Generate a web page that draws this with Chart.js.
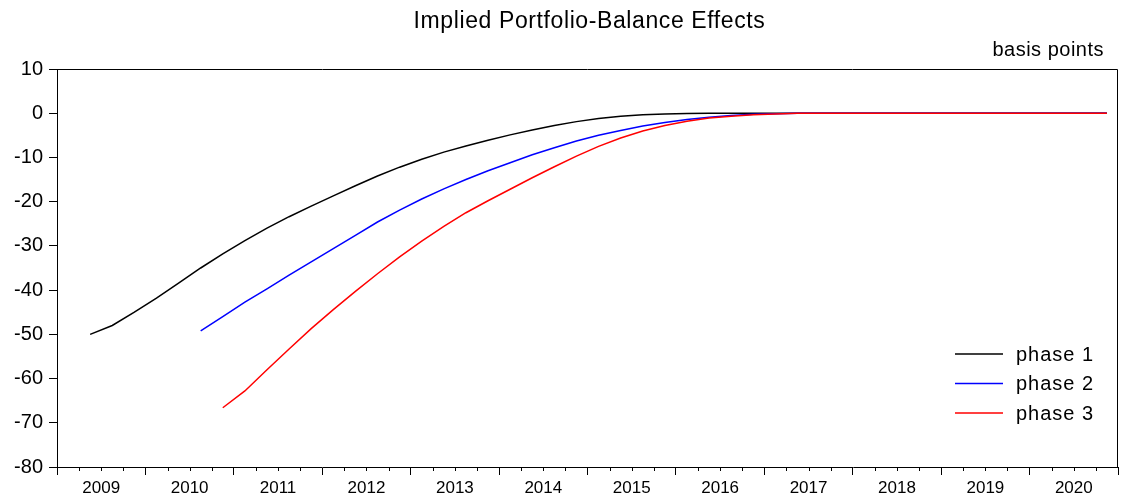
<!DOCTYPE html>
<html>
<head>
<meta charset="utf-8">
<script src="https://cdn.jsdelivr.net/npm/chart.js@4"></script>
<style>
  html, body { margin: 0; padding: 0; background: #fff; }
  #wrap { width: 1122px; height: 498px; position: relative; }
</style>
</head>
<body>
<div id="wrap"><canvas id="chart"></canvas></div>
<script>
const FONT = '"Liberation Sans", Arial, sans-serif';

const firstYear = 2009;
const lastYear = 2020;
const titleText = 'Implied Portfolio-Balance Effects';
const unitText = 'basis points';

// quarterly observations, 2009Q1 .. 2020Q4
const quarters = [];
for (let y = firstYear; y <= lastYear; y++) {
  for (let q = 1; q <= 4; q++) quarters.push(y + 'Q' + q);
}

const phase1 = [null, -50.0, -48.0, -45.0, -41.8, -38.4, -35.0, -31.8, -28.8, -26.0,
  -23.4, -21.0, -18.7, -16.4, -14.2, -12.2, -10.4, -8.8, -7.4, -6.1,
  -4.9, -3.8, -2.8, -1.9, -1.2, -0.7, -0.35, -0.15, -0.05, 0,
  0, 0, 0, 0, 0, 0, 0, 0, 0, 0,
  0, 0, 0, 0, 0, 0, 0, 0];

const phase2 = [null, null, null, null, null, null, -49.2, -46.0, -42.7, -39.7,
  -36.6, -33.6, -30.6, -27.6, -24.6, -21.9, -19.4, -17.1, -15.0, -13.0,
  -11.2, -9.4, -7.8, -6.3, -5.0, -3.9, -2.9, -2.1, -1.4, -0.9,
  -0.5, -0.25, -0.1, 0, 0, 0, 0, 0, 0, 0,
  0, 0, 0, 0, 0, 0, 0, 0];

const phase3 = [null, null, null, null, null, null, null, -66.6, -62.8, -58.0,
  -53.3, -48.7, -44.4, -40.3, -36.3, -32.5, -28.9, -25.6, -22.5, -19.8,
  -17.2, -14.6, -12.1, -9.7, -7.5, -5.6, -4.0, -2.8, -1.8, -1.1,
  -0.7, -0.35, -0.15, 0, 0, 0, 0, 0, 0, 0,
  0, 0, 0, 0, 0, 0, 0, 0];

const seriesNames = ['phase 1', 'phase 2', 'phase 3'];
const seriesColors = ['#000000', '#0000ff', '#ff0000'];

// each quarter is plotted in the middle of its interval
const toPoints = vals => vals.map((v, i) => ({ x: firstYear + (i + 0.5) / 4, y: v }));

const decor = {
  id: 'decor',
  afterDraw(chart) {
    const { ctx, chartArea: a, scales: { x } } = chart;
    ctx.save();
    ctx.strokeStyle = '#000';
    ctx.lineWidth = 1;
    // frame
    ctx.beginPath();
    ctx.moveTo(Math.round(a.left) + 0.5, Math.round(a.top) + 0.5);
    ctx.lineTo(Math.round(a.right) - 0.5, Math.round(a.top) + 0.5);
    ctx.lineTo(Math.round(a.right) - 0.5, Math.round(a.bottom) + 0.5);
    ctx.stroke();
    // short quarter ticks
    ctx.beginPath();
    x.ticks.forEach(t => {
      if (Number.isInteger(t.value)) return;
      const px = Math.round(x.getPixelForValue(t.value)) + 0.5;
      ctx.moveTo(px, a.bottom);
      ctx.lineTo(px, a.bottom + 4);
    });
    ctx.stroke();

    // title and unit
    ctx.fillStyle = '#000';
    ctx.font = '23px ' + FONT;
    ctx.letterSpacing = '0.6px';
    ctx.textAlign = 'center';
    ctx.textBaseline = 'alphabetic';
    ctx.fillText(titleText, (a.left + a.right) / 2 + 2, 28);
    ctx.font = '20px ' + FONT;
    ctx.letterSpacing = '0.5px';
    ctx.textAlign = 'right';
    ctx.fillText(unitText, 1104, 56);

    // legend
    chart.data.datasets.forEach((ds, i) => {
      const y = 354 + i * 29.5;
      ctx.strokeStyle = ds.borderColor;
      ctx.lineWidth = 1.5;
      ctx.beginPath();
      ctx.moveTo(955, y);
      ctx.lineTo(1003, y);
      ctx.stroke();
      ctx.fillStyle = '#000';
      ctx.font = '20px ' + FONT;
      ctx.letterSpacing = '1px';
      ctx.textAlign = 'left';
      ctx.textBaseline = 'middle';
      ctx.fillText(ds.label, 1016, y + 1);
    });
    ctx.restore();
  }
};

new Chart(document.getElementById('chart'), {
  type: 'line',
  data: {
    datasets: [phase1, phase2, phase3].map((vals, i) => ({
      label: seriesNames[i],
      data: toPoints(vals),
      borderColor: seriesColors[i],
      borderWidth: 1.5,
      pointRadius: 0,
      tension: 0,
      spanGaps: false,
      order: 2 - i
    }))
  },
  options: {
    responsive: true,
    maintainAspectRatio: false,
    animation: false,
    layout: { padding: { top: 69, right: 4, left: 0, bottom: 0 } },
    plugins: {
      legend: { display: false },
      title: { display: false },
      tooltip: { enabled: false }
    },
    scales: {
      x: {
        type: 'linear',
        min: firstYear,
        max: lastYear + 1,
        afterFit: s => { s.height = 31; },
        grid: {
          drawOnChartArea: false,
          tickLength: 8,
          tickColor: ctx => Number.isInteger(ctx.tick.value) ? '#000' : 'rgba(0,0,0,0)'
        },
        border: { display: true, color: '#000', width: 1 },
        ticks: {
          stepSize: 0.25,
          autoSkip: false,
          maxRotation: 0,
          padding: 3,
          color: '#000',
          font: { family: FONT, size: 17 },
          callback: v => (v % 1 === 0.5 ? String(Math.floor(v)) : '')
        }
      },
      y: {
        min: -80,
        max: 10,
        afterFit: s => { s.width = 57; },
        grid: { drawOnChartArea: false, tickLength: 8, tickColor: '#000' },
        border: { display: true, color: '#000', width: 1 },
        ticks: {
          stepSize: 10,
          padding: 6,
          color: '#000',
          font: { family: FONT, size: 20 }
        }
      }
    }
  },
  plugins: [decor]
});
</script>
</body>
</html>
